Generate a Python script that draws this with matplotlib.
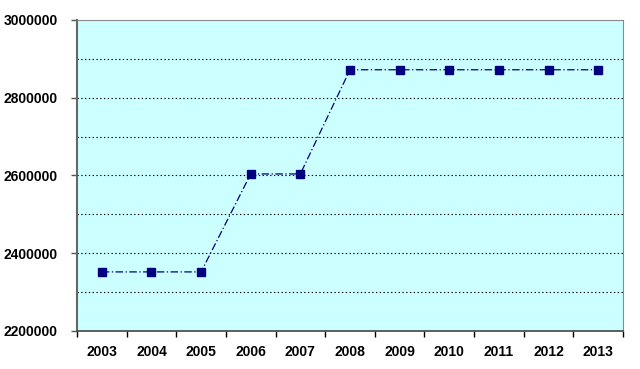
import matplotlib
matplotlib.use("Agg")
import matplotlib.pyplot as plt
from matplotlib.ticker import MultipleLocator

years = ["2003", "2004", "2005", "2006", "2007", "2008", "2009", "2010", "2011", "2012", "2013"]
values = [2352000, 2352000, 2352000, 2604000, 2604000, 2872000, 2872000, 2872000, 2872000, 2872000, 2872000]
yticks = [2200000, 2400000, 2600000, 2800000, 3000000]

plt.rcParams['font.family'] = ['Liberation Sans', 'DejaVu Sans']

fig = plt.figure(figsize=(6.4, 3.69), dpi=100)
ax = fig.add_axes([77/640, 1 - 331/369, (623-77)/640, (331-20)/369])
ax.set_facecolor('#CCFFFF')

x = list(range(len(years)))
ax.plot(x, values, color='#000080', linestyle=(0, (6, 2, 1, 2)), linewidth=0.9,
        marker='s', markersize=6, markerfacecolor='#000080', markeredgecolor='#000080', zorder=3)

ax.set_xlim(-0.5, len(years) - 0.5)
ax.set_ylim(2200000, 3000000)

ax.yaxis.set_minor_locator(MultipleLocator(100000))
ax.set_yticks(yticks)
ax.set_yticklabels([str(v) for v in yticks], fontsize=10, fontweight='bold')
for v in range(2300000, 3000000, 100000):
    ax.axhline(v, color='black', linestyle=(0, (1.2, 2.2)), linewidth=0.8, zorder=1)
ax.tick_params(axis='y', which='minor', length=0)
ax.tick_params(axis='y', which='major', length=4, width=1, color='#555555', pad=10)

ax.set_xticks([i + 0.5 for i in range(-1, len(years))], minor=False)
ax.set_xticklabels([])
ax.set_xticks(x, minor=True)
ax.set_xticklabels(years, minor=True, fontsize=10, fontweight='bold')
ax.tick_params(axis='x', which='minor', length=0, pad=10)
ax.tick_params(axis='x', which='major', length=4, width=1, color='black', direction='out')

for side in ['top', 'right']:
    ax.spines[side].set_color('#888888')
    ax.spines[side].set_linewidth(0.8)
ax.spines['left'].set_color('#666666')
ax.spines['left'].set_linewidth(1.5)
ax.spines['bottom'].set_color('#444444')
ax.spines['bottom'].set_linewidth(1.2)

fig.savefig('out.png', dpi=100, facecolor='white')
